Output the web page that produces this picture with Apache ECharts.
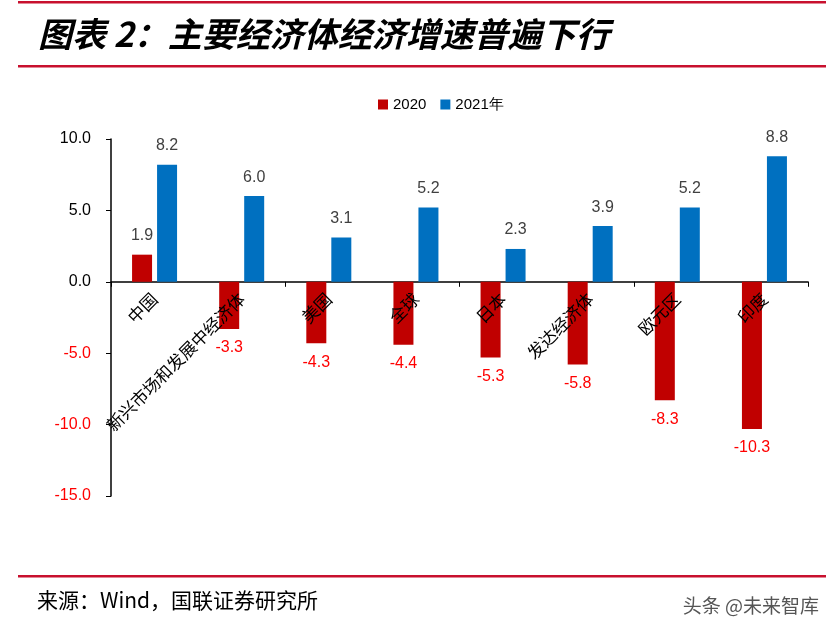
<!DOCTYPE html>
<html>
<head>
<meta charset="utf-8">
<script src="https://cdn.jsdelivr.net/npm/echarts@6/dist/echarts.min.js"></script>
<style>
  html, body { margin: 0; padding: 0; background: #fff; }
  #chart { width: 833px; height: 640px; }
</style>
</head>
<body>
<div id="chart"></div>
<script>
var categories = ['中国', '新兴市场和发展中经济体', '美国', '全球', '日本', '发达经济体', '欧元区', '印度'];
var growth2020 = [1.9, -3.3, -4.3, -4.4, -5.3, -5.8, -8.3, -10.3];
var growth2021 = [8.2, 6.0, 3.1, 5.2, 2.3, 3.9, 5.2, 8.8];
var yMin = -15, yMax = 10;

var chart = echarts.init(document.getElementById('chart'));
var font = '"Noto Sans CJK SC", "Noto Sans", sans-serif';
var latin = '"Liberation Sans", Arial, sans-serif';

var gridTop = 139, gridBottom = 144;
var plotH = 640 - gridTop - gridBottom;
// distance of the zero line above the bottom of the grid
var zeroOffset = plotH * (0 - yMin) / (yMax - yMin);

function labelColor(v) {
    return v < 0 ? '#FF0000' : '#404040';
}

var option = {
    animation: false,
    textStyle: { fontFamily: font },
    legend: {
        top: 92,
        left: 373,
        itemWidth: 10,
        itemHeight: 10,
        itemGap: 14,
        icon: 'rect',
        textStyle: { fontSize: 15, color: '#000', fontFamily: latin },
        data: ['2020', '2021年']
    },
    grid: { left: 111, right: 25, top: gridTop, bottom: gridBottom },
    xAxis: [
        {
            type: 'category',
            data: categories,
            axisLine: { onZero: true, lineStyle: { color: '#000', width: 1.5 } },
            axisTick: { show: true, length: 5, lineStyle: { color: '#000' } },
            axisLabel: { show: false }
        },
        {
            type: 'category',
            data: categories,
            position: 'bottom',
            offset: -zeroOffset,
            z: 10,
            axisLine: { show: false },
            axisTick: { show: false },
            axisLabel: {
                rotate: 45,
                interval: 0,
                fontSize: 17,
                color: '#000',
                margin: 14
            }
        }
    ],
    yAxis: {
        type: 'value',
        min: yMin,
        max: yMax,
        interval: 5,
        splitLine: { show: false },
        axisLine: { show: true, lineStyle: { color: '#000', width: 1.5 } },
        axisTick: { show: true, length: 5, lineStyle: { color: '#000' } },
        axisLabel: {
            fontSize: 16,
            margin: 20,
            fontFamily: latin,
            formatter: function (v) { return v.toFixed(1); },
            color: function (v) { return Number(v) < 0 ? '#FF0000' : '#000'; }
        }
    },
    series: [
        {
            name: '2020',
            type: 'bar',
            barWidth: 20,
            barGap: '25%',
            itemStyle: { color: '#C00000' },
            data: growth2020.map(function (v) {
                return { value: v, label: { color: labelColor(v) } };
            }),
            label: {
                show: true,
                position: 'outside',
                distance: 11,
                fontSize: 16,
                fontFamily: latin,
                formatter: function (p) { return p.value.toFixed(1); }
            }
        },
        {
            name: '2021年',
            type: 'bar',
            barWidth: 20,
            itemStyle: { color: '#0070C0' },
            data: growth2021,
            label: {
                show: true,
                position: 'top',
                distance: 11,
                fontSize: 16,
                color: '#404040',
                fontFamily: latin,
                formatter: function (p) { return p.value.toFixed(1); }
            }
        }
    ],
    graphic: [
        { type: 'rect', shape: { x: 18, y: 1, width: 808, height: 2.5 }, style: { fill: '#C8102E' } },
        { type: 'rect', shape: { x: 18, y: 65, width: 808, height: 2.5 }, style: { fill: '#C8102E' } },
        { type: 'rect', shape: { x: 18, y: 575, width: 808, height: 2.5 }, style: { fill: '#C8102E' } },
        {
            type: 'text', left: 38, top: 17,
            style: {
                text: '图表 2：主要经济体经济增速普遍下行',
                font: 'italic bold 34px ' + font,
                fill: '#000'
            }
        },
        {
            type: 'text', left: 37, top: 590,
            style: { text: '来源：Wind，国联证券研究所', font: '21px ' + font, fill: '#000' }
        },
        {
            type: 'text', right: 14, top: 596,
            style: { text: '头条 @未来智库', font: '19px ' + font, fill: '#555' }
        }
    ]
};

chart.setOption(option);
</script>
</body>
</html>
